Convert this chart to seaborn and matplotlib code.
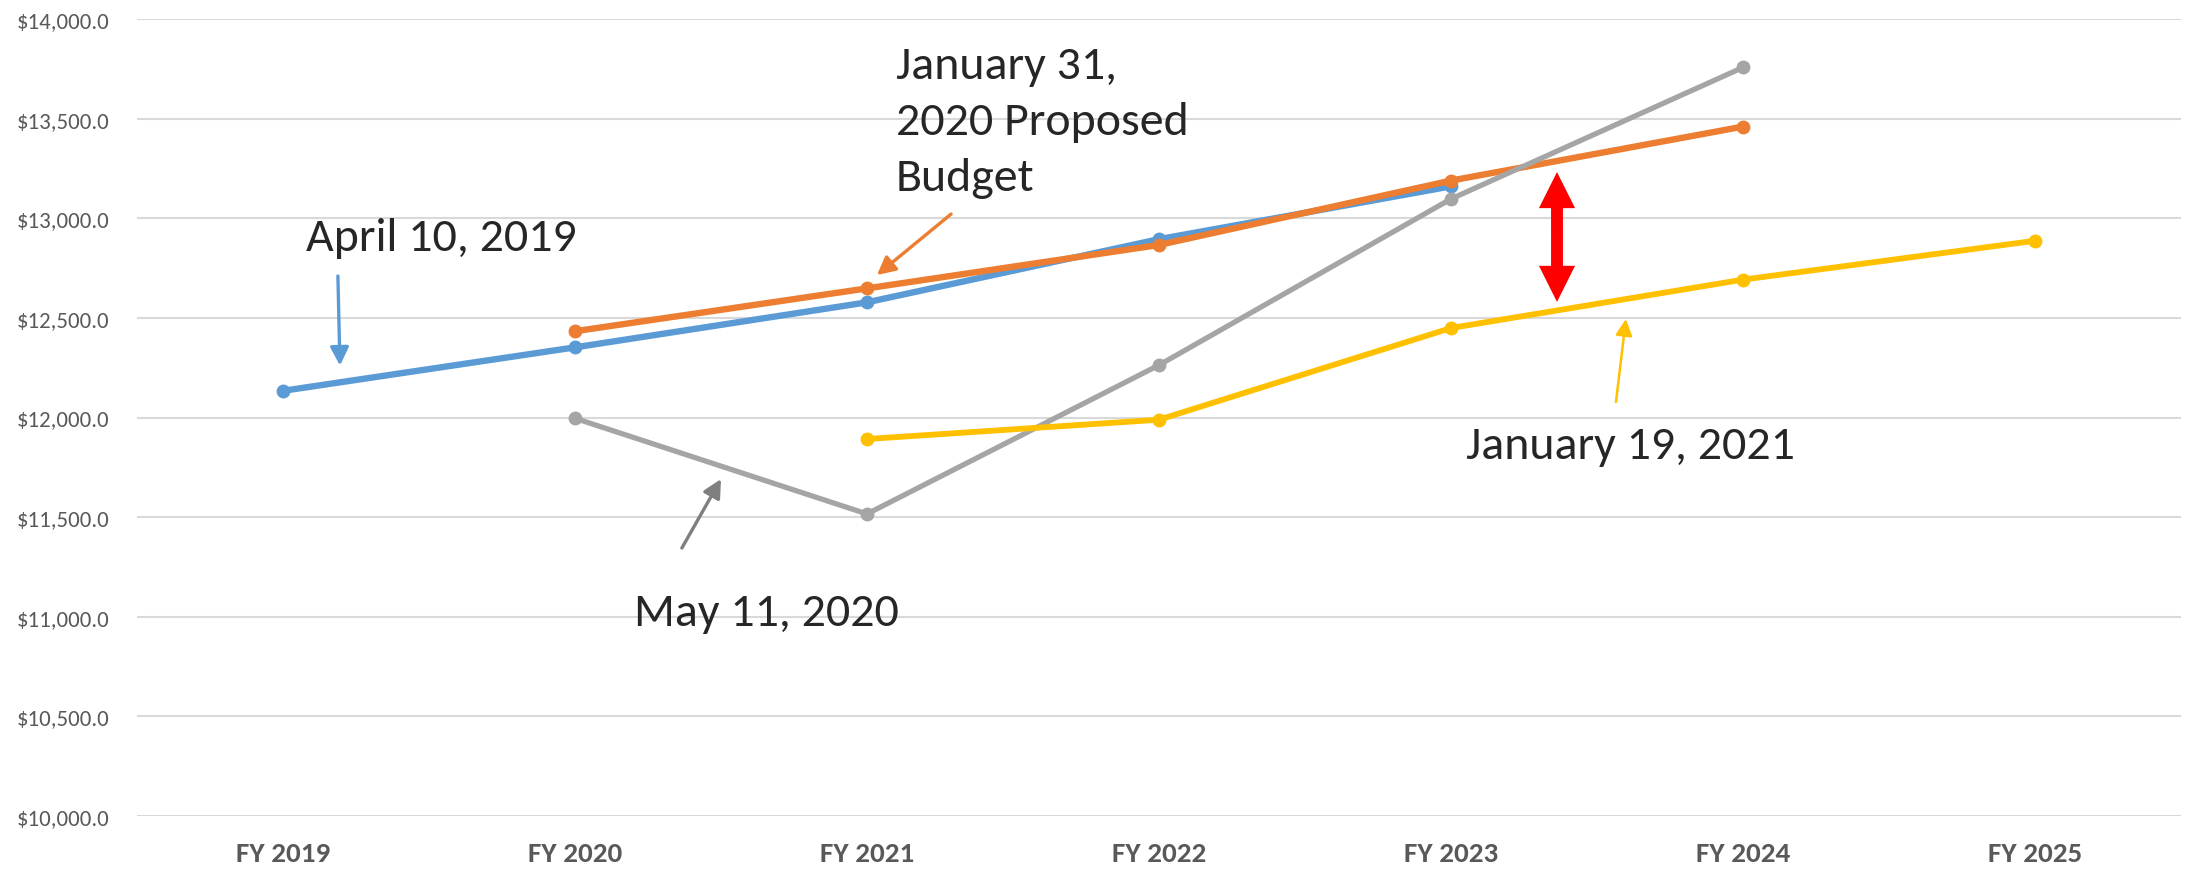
import numpy as np
import pandas as pd
import matplotlib
matplotlib.use('Agg')
import matplotlib.pyplot as plt
from matplotlib import font_manager
from matplotlib.patches import FancyArrowPatch
import seaborn as sns

# 数据
years = ['FY 2019', 'FY 2020', 'FY 2021', 'FY 2022', 'FY 2023', 'FY 2024', 'FY 2025']
apr_2019 = [12134, 12352, 12578, 12895, 13160]          # FY2019-FY2023
jan_2020 = [12433, 12648, 12866, 13189, 13460]          # FY2020-FY2024
may_2020 = [11996, 11516, 12263, 13097, 13757]          # FY2020-FY2024
jan_2021 = [11892, 11989, 12449, 12692, 12887]          # FY2021-FY2025
y_ticks = [10000, 10500, 11000, 11500, 12000, 12500, 13000, 13500, 14000]

series = [
    ('April 10, 2019', years[0:5], apr_2019, '#5B9BD5', 4.6),
    ('January 31, 2020', years[1:6], jan_2020, '#ED7D31', 4.6),
    ('May 11, 2020', years[1:6], may_2020, '#A5A5A5', 3.8),
    ('January 19, 2021', years[2:7], jan_2021, '#FFC000', 4.2),
]

sns.set_style('white')
names = {f.name for f in font_manager.fontManager.ttflist}
font = next(n for n in ['Carlito', 'Liberation Sans Narrow', 'Open Sans', 'DejaVu Sans'] if n in names)
narrow = font in ('Carlito', 'Liberation Sans Narrow')
plt.rcParams['font.family'] = [font, 'DejaVu Sans']
k = 1.0 if narrow else 0.8

fig = plt.figure(figsize=(21.93, 8.7), dpi=100)
ax = fig.add_axes([137 / 2193, 1 - 817 / 870, (2181 - 137) / 2193, (817 - 20) / 870])

for name, yrs, vals, color, lw in series:
    df = pd.DataFrame({'pos': [years.index(y) for y in yrs], 'value': vals})
    sns.lineplot(data=df, x='pos', y='value', ax=ax, color=color, lw=lw,
                 marker='o', markersize=10, markeredgewidth=0, zorder=3)

ax.set_xlim(-0.5, len(years) - 0.5)
ax.set_ylim(y_ticks[0], y_ticks[-1])
ax.set_xticks(range(len(years)))
ax.set_xticklabels(years, fontsize=21 * k, fontweight='bold', color='#595959')
ax.set_yticks(y_ticks)
ax.set_yticklabels(['${:,.1f}'.format(v) for v in y_ticks], fontsize=16.5 * k, color='#595959')
ax.tick_params(axis='both', length=0)
ax.tick_params(axis='x', pad=18)
ax.tick_params(axis='y', pad=20)
ax.grid(axis='y', color='#D9D9D9', lw=1.5)
ax.set_axisbelow(True)
for s in ax.spines.values():
    s.set_visible(False)
ax.set_xlabel('')
ax.set_ylabel('')

ts = 34.5 * k
# 标注
ax.text(0.541, 12905, 'April 10, 2019', fontsize=ts, ha='center', va='center')
ax.annotate('', xy=(0.195, 12261), xytext=(0.188, 12710),
            arrowprops=dict(arrowstyle='-|>,head_length=0.55,head_width=0.28', color='#5B9BD5',
                            lw=2.4, shrinkA=0, shrinkB=0, mutation_scale=20))

ax.text(2.099, 13870, 'January 31,\n2020 Proposed\nBudget', fontsize=ts, ha='left', va='top',
        linespacing=1.45)
ax.annotate('', xy=(2.034, 12715), xytext=(2.288, 13021),
            arrowprops=dict(arrowstyle='-|>,head_length=0.55,head_width=0.28', color='#ED7D31',
                            lw=2.4, shrinkA=0, shrinkB=0, mutation_scale=20))

ax.text(1.654, 11020, 'May 11, 2020', fontsize=ts, ha='center', va='center')
ax.annotate('', xy=(1.5, 11691), xytext=(1.366, 11345),
            arrowprops=dict(arrowstyle='-|>,head_length=0.55,head_width=0.28', color='#7F7F7F',
                            lw=2.4, shrinkA=0, shrinkB=0, mutation_scale=20))

ax.text(4.616, 11860, 'January 19, 2021', fontsize=ts, ha='center', va='center')
ax.annotate('', xy=(4.599, 12494), xytext=(4.565, 12078),
            arrowprops=dict(arrowstyle='-|>,head_length=0.55,head_width=0.28', color='#FFC000',
                            lw=1.8, shrinkA=0, shrinkB=0, mutation_scale=18))

# 红色双箭头
mid = (13232 + 12580) / 2
for end in (13232, 12580):
    ax.add_patch(FancyArrowPatch((4.363, mid), (4.363, end),
                                 arrowstyle='simple,head_length=1.0,head_width=1.0,tail_width=0.33',
                                 mutation_scale=26, color='#FF0000', lw=0,
                                 shrinkA=0, shrinkB=0, zorder=4))

fig.savefig('out.png', dpi=100)
